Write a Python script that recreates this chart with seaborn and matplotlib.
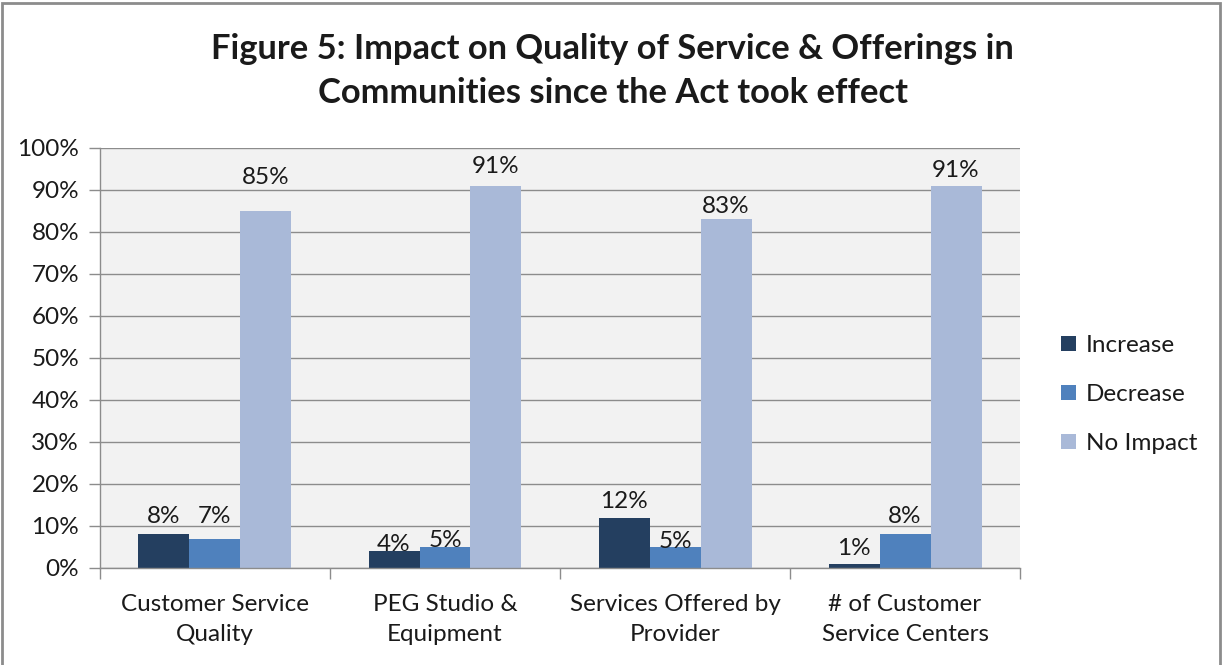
import matplotlib
matplotlib.use("Agg")
import matplotlib.pyplot as plt
from matplotlib.patches import Rectangle
from matplotlib.ticker import FixedLocator, NullFormatter, PercentFormatter
import seaborn as sns
import pandas as pd

categories = ["Customer Service\nQuality", "PEG Studio &\nEquipment",
              "Services Offered by\nProvider", "# of Customer\nService Centers"]
series_names = ["Increase", "Decrease", "No Impact"]
increase = [8, 4, 12, 1]
decrease = [7, 5, 5, 8]
no_impact = [85, 91, 83, 91]
colors = ["#243F60", "#4F81BD", "#A9B9D8"]

# label placement (points above bar top, as in the original figure)
label_offsets = [[8, 0, 6.5, 6.5], [11, 0, -0.5, 8], [19.5, 9.5, 4.5, 6.5]]

rows = []
for name, vals in zip(series_names, [increase, decrease, no_impact]):
    for c, v in zip(categories, vals):
        rows.append({"Category": c, "Series": name, "Value": v})
df = pd.DataFrame(rows)

sns.set_theme(style="white")
plt.rcParams["font.family"] = ["Lato", "DejaVu Sans"]

FS = 17.5
fig = plt.figure(figsize=(12.25, 6.65), dpi=100)
ax = fig.add_axes([0.0816, 0.146, 0.7511, 0.6315])
ax.set_facecolor("#F2F2F2")

sns.barplot(data=df, x="Category", y="Value", hue="Series", order=categories,
            hue_order=series_names, palette=colors, width=0.665, gap=0,
            saturation=1, ax=ax, legend=True, linewidth=0)

for container, offs in zip(ax.containers, label_offsets):
    for bar, off in zip(container, offs):
        h = bar.get_height()
        ax.annotate(f"{int(round(h))}%", (bar.get_x() + bar.get_width() / 2, h),
                    xytext=(0, off), textcoords="offset points",
                    ha="center", va="baseline", fontsize=FS, color="#1a1a1a")

ax.set_ylim(0, 100)
ax.set_xlim(-0.5, len(categories) - 0.5)
ax.set_yticks(range(0, 101, 10))
ax.yaxis.set_major_formatter(PercentFormatter(100, decimals=0))
ax.yaxis.grid(True, color="#8C8C8C", linewidth=1)
ax.set_axisbelow(True)
ax.set_xlabel("")
ax.set_ylabel("")

ax.set_xticks(range(len(categories)))
ax.set_xticklabels(categories, fontsize=FS, color="#1a1a1a", linespacing=1.5)
ax.tick_params(axis="x", length=0, pad=19)
ax.xaxis.set_minor_locator(FixedLocator([i - 0.5 for i in range(len(categories) + 1)]))
ax.xaxis.set_minor_formatter(NullFormatter())
ax.tick_params(axis="x", which="minor", length=8, color="#8C8C8C", width=1, bottom=True)
ax.tick_params(axis="y", length=8, color="#8C8C8C", width=1, left=True,
               labelsize=FS, labelcolor="#1a1a1a", pad=7)

for s in ["top", "right"]:
    ax.spines[s].set_visible(False)
for s in ["left", "bottom"]:
    ax.spines[s].set_color("#8C8C8C")
    ax.spines[s].set_linewidth(1)

handles, labels = ax.get_legend_handles_labels()
ax.legend(handles, labels, loc="center left", bbox_to_anchor=(1.021, 0.413),
          frameon=False, fontsize=FS, handlelength=0.6, handleheight=0.6,
          handletextpad=0.4, labelspacing=1.15, labelcolor="#1a1a1a")

fig.text(0.5, 0.893, "Figure 5: Impact on Quality of Service & Offerings in\nCommunities since the Act took effect",
         ha="center", va="center", fontsize=24.8, fontweight="bold", color="#1a1a1a",
         linespacing=1.45)

fig.patches.append(Rectangle((0.002, -0.01), 0.994, 1.005, transform=fig.transFigure,
                             fill=False, edgecolor="#8C8C8C", linewidth=2))

fig.savefig("out.png", dpi=100)
